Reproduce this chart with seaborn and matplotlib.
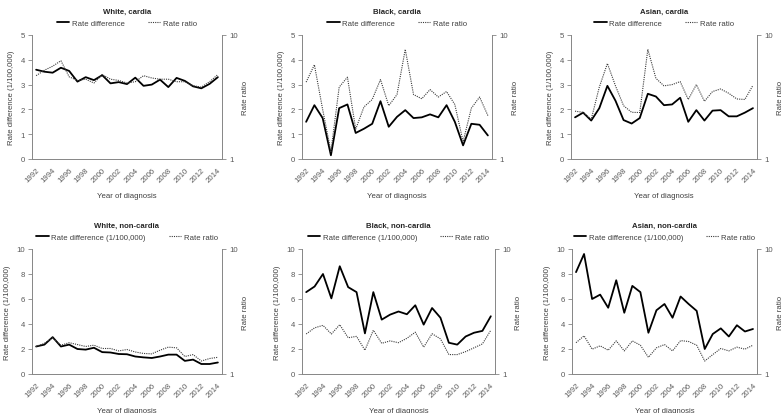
import pandas as pd
import matplotlib
matplotlib.use("Agg")
import matplotlib.pyplot as plt
import matplotlib.ticker as mticker
import seaborn as sns

sns.set_style("white")
plt.rcParams['font.family'] = ['Liberation Sans', 'DejaVu Sans']

years = list(range(1992, 2015))

# rate differences (1/100,000) and rate ratios per panel
white_cardia_rd = [3.6, 3.52, 3.48, 3.68, 3.55, 3.12, 3.3, 3.18, 3.38, 3.05, 3.1, 3.02,
                   3.28, 2.95, 3.0, 3.2, 2.9, 3.27, 3.15, 2.93, 2.85, 3.03, 3.3]
white_cardia_rr = [4.7, 5.2, 5.6, 6.2, 4.6, 4.3, 4.4, 4.1, 4.8, 4.4, 4.3, 4.1,
                   4.2, 4.7, 4.5, 4.4, 4.4, 4.2, 4.2, 3.9, 3.8, 4.2, 4.8]

black_cardia_rd = [1.5, 2.17, 1.65, 0.15, 2.05, 2.2, 1.05, 1.22, 1.42, 2.33, 1.3, 1.7,
                   1.97, 1.65, 1.68, 1.8, 1.68, 2.17, 1.5, 0.55, 1.42, 1.38, 0.95]
black_cardia_rr = [4.17, 5.75, 2.51, 1.15, 3.80, 4.57, 1.74, 2.63, 3.02, 4.37, 2.69, 3.31,
                   7.66, 3.31, 3.06, 3.63, 3.16, 3.50, 2.75, 1.38, 2.57, 3.16, 2.24]

asian_cardia_rd = [1.68, 1.87, 1.55, 2.05, 2.95, 2.35, 1.57, 1.43, 1.65, 2.63, 2.52, 2.17,
                   2.2, 2.47, 1.5, 1.97, 1.55, 1.95, 1.97, 1.72, 1.72, 1.87, 2.05]
asian_cardia_rr = [2.43, 2.38, 2.09, 3.80, 5.89, 3.89, 2.69, 2.38, 2.37, 7.66, 4.47, 3.89,
                   3.98, 4.21, 3.02, 3.98, 2.92, 3.50, 3.67, 3.39, 3.05, 3.02, 3.93]

white_noncardia_rd = [2.2, 2.35, 2.95, 2.2, 2.35, 2.0, 1.95, 2.1, 1.75, 1.72, 1.6, 1.58,
                      1.4, 1.33, 1.28, 1.4, 1.55, 1.55, 1.05, 1.15, 0.8, 0.8, 0.92]
white_noncardia_rr = [1.66, 1.76, 1.95, 1.70, 1.78, 1.72, 1.66, 1.70, 1.60, 1.60, 1.53, 1.57,
                      1.50, 1.46, 1.45, 1.55, 1.64, 1.62, 1.38, 1.43, 1.27, 1.33, 1.36]

black_noncardia_rd = [6.55, 7.0, 8.0, 6.05, 8.62, 6.95, 6.55, 3.25, 6.55, 4.35, 4.75, 5.0,
                      4.78, 5.5, 3.95, 5.28, 4.5, 2.5, 2.35, 3.0, 3.3, 3.45, 4.62]
black_noncardia_rr = [2.09, 2.34, 2.45, 2.09, 2.48, 1.95, 2.0, 1.55, 2.24, 1.76, 1.84, 1.78,
                      1.93, 2.16, 1.64, 2.10, 1.91, 1.43, 1.43, 1.51, 1.62, 1.74, 2.24]

asian_noncardia_rd = [8.15, 9.6, 6.0, 6.35, 5.3, 7.5, 4.9, 7.05, 6.55, 3.3, 5.1, 5.6,
                      4.5, 6.2, 5.6, 5.05, 2.0, 3.2, 3.65, 3.0, 3.9, 3.4, 3.6]
asian_noncardia_rr = [1.78, 2.02, 1.58, 1.68, 1.55, 1.84, 1.53, 1.84, 1.70, 1.36, 1.62, 1.72,
                      1.53, 1.85, 1.82, 1.70, 1.27, 1.43, 1.60, 1.53, 1.64, 1.58, 1.70]

panels = [
    ("White, cardia", white_cardia_rd, white_cardia_rr, 5, "Rate difference"),
    ("Black, cardia", black_cardia_rd, black_cardia_rr, 5, "Rate difference"),
    ("Asian, cardia", asian_cardia_rd, asian_cardia_rr, 5, "Rate difference"),
    ("White, non-cardia", white_noncardia_rd, white_noncardia_rr, 10, "Rate difference (1/100,000)"),
    ("Black, non-cardia", black_noncardia_rd, black_noncardia_rr, 10, "Rate difference (1/100,000)"),
    ("Asian, non-cardia", asian_noncardia_rd, asian_noncardia_rr, 10, "Rate difference (1/100,000)"),
]

W, H = 784, 414
# axes boxes in pixels: left, top, right, bottom
boxes = [(32, 36, 222, 160), (302, 36, 492, 160), (571, 36, 757, 160),
         (32, 250, 222, 375), (302, 250, 495, 375), (572, 250, 757, 375)]

grey = '#595959'
axis_grey = '#868686'
fs = 5.6

fig = plt.figure(figsize=(W / 100, H / 100), dpi=100)

for (title, rd, rr, ymax, rd_label), (l, t, r, b) in zip(panels, boxes):
    ax = fig.add_axes([l / W, 1 - b / H, (r - l) / W, (b - t) / H])
    df = pd.DataFrame({'idx': range(len(years)), 'rd': rd, 'rr': rr})

    sns.lineplot(x='idx', y='rd', data=df, ax=ax, color='black', linewidth=1.3,
                 label=rd_label, legend=False)
    ax.set_xlim(-0.5, len(years) - 0.5)
    ax.set_ylim(0, ymax)
    ax.set_yticks(range(0, ymax + 1, 1 if ymax == 5 else 2))
    ax.set_xticks(range(0, len(years), 2))
    ax.set_xticklabels([str(y) for y in years[::2]], rotation=45, ha='right',
                       rotation_mode='anchor')
    ax.tick_params(axis='both', labelsize=fs, colors=axis_grey, labelcolor=grey,
                   length=3, width=0.6, direction='out', pad=2)
    ax.set_xlabel('Year of diagnosis', fontsize=fs, color='#404040', labelpad=6)
    ax.set_ylabel('Rate difference (1/100,000)', fontsize=fs, color='#404040', labelpad=4)
    for s in ['top', 'right']:
        ax.spines[s].set_visible(False)
    for s in ['left', 'bottom']:
        ax.spines[s].set_color(axis_grey)
        ax.spines[s].set_linewidth(0.7)

    ax2 = ax.twinx()
    sns.lineplot(x='idx', y='rr', data=df, ax=ax2, color='#3a3a3a', linewidth=0.8,
                 linestyle=(0, (1, 1)), label='Rate ratio', legend=False)
    ax2.set_yscale('log')
    ax2.set_ylim(1, 10)
    ax2.set_yticks([1, 10])
    ax2.yaxis.set_major_formatter(mticker.FormatStrFormatter('%d'))
    ax2.yaxis.set_minor_locator(mticker.NullLocator())
    ax2.tick_params(axis='y', labelsize=fs, colors=axis_grey, labelcolor=grey,
                    length=3, width=0.6, pad=2)
    ax2.set_ylabel('Rate ratio', fontsize=fs, color='#404040', labelpad=3)
    ax2.set_xlabel('')
    for s in ['top', 'left', 'bottom']:
        ax2.spines[s].set_visible(False)
    ax2.spines['right'].set_color(axis_grey)
    ax2.spines['right'].set_linewidth(0.7)

    h1, l1 = ax.get_legend_handles_labels()
    h2, l2 = ax2.get_legend_handles_labels()
    ax.legend(h1 + h2, l1 + l2, loc='center', bbox_to_anchor=(0.5, 1 + 12 / (b - t)),
              ncol=2, frameon=False, fontsize=fs, labelcolor='#404040',
              handlelength=1.6, handletextpad=0.3, columnspacing=3.0,
              borderaxespad=0, borderpad=0)

    fig.text((l + r) / 2 / W, 1 - (t - 24) / H, title, ha='center', va='center',
             fontsize=fs, fontweight='bold', color='#262626')

plt.savefig('out.png', dpi=100)
plt.close()
